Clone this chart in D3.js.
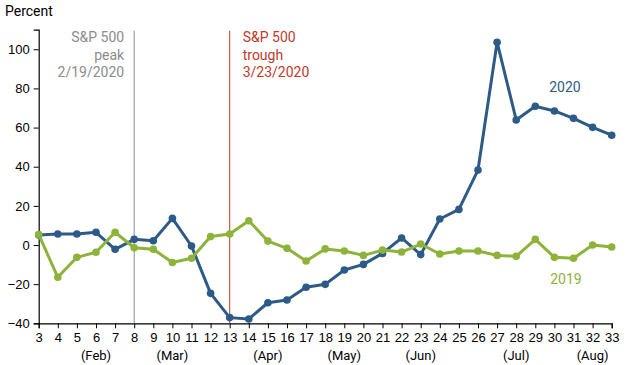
<!DOCTYPE html>
<html>
<head>
<meta charset="utf-8">
<script src="https://cdn.jsdelivr.net/npm/d3@7"></script>
<style>
  body { margin: 0; background: #fff; }
  svg { font-family: Roboto, "Noto Sans", sans-serif; }
  .axis text { font-size: 13px; fill: #000; }
</style>
</head>
<body>
<div id="chart"></div>
<script>
// 週番号 (x軸)
var weeks = d3.range(3, 34);

// 2020年の系列
var values2020 = [5.1, 5.6, 5.6, 6.5, -2.2, 2.9, 2.2, 13.6, -0.5, -24.7, -37.1,
  -37.8, -29.5, -28.1, -21.6, -20.1, -12.8, -9.9, -4.3, 3.6, -4.9, 13.3, 18.2,
  38.3, 103.6, 63.9, 70.9, 68.5, 64.7, 60.1, 56.1];

// 2019年の系列
var values2019 = [5.4, -16.5, -6.3, -3.7, 6.5, -1.4, -2.2, -8.9, -6.8, 4.3, 5.6,
  12.4, 2.0, -1.7, -8.2, -2.0, -3.1, -5.3, -2.6, -3.6, 0.5, -4.6, -3.1, -3.1,
  -5.3, -5.8, 2.9, -6.3, -6.8, 0.0, -1.0];

// y軸の目盛り
var yTicks = [-40, -20, 0, 20, 40, 60, 80, 100];

// 月ラベル（週番号の位置に置く）
var months = [
  { week: 6, label: '(Feb)' },
  { week: 10, label: '(Mar)' },
  { week: 15, label: '(Apr)' },
  { week: 19, label: '(May)' },
  { week: 23, label: '(Jun)' },
  { week: 28, label: '(Jul)' },
  { week: 32, label: '(Aug)' }
];

// 注記の縦線
var markers = [
  { week: 8, lines: ['S&P 500', 'peak', '2/19/2020'], color: '#8c8c8c', anchor: 'end' },
  { week: 13, lines: ['S&P 500', 'trough', '3/23/2020'], color: '#c0392b', anchor: 'start' }
];

var blue = '#2d5b87';
var green = '#8db33a';

var width = 625;
var height = 365;

var svg = d3.select('#chart').append('svg')
  .attr('width', width).attr('height', height);

var x = d3.scaleLinear().domain([3, 33]).range([38.7, 611.7]);
var y = d3.scaleLinear().domain([-40, 110]).range([323.3, 29.7]);

// y軸
var yAxis = svg.append('g')
  .attr('class', 'axis')
  .attr('transform', 'translate(' + x(3) + ',0)')
  .call(d3.axisLeft(y).tickValues(yTicks).tickSize(5).tickPadding(4));
yAxis.select('.domain').attr('stroke', '#000').attr('stroke-width', 1.2);
yAxis.selectAll('.tick line').attr('stroke', '#000');

// x軸
var xAxis = svg.append('g')
  .attr('class', 'axis')
  .attr('transform', 'translate(0,' + y(-40) + ')')
  .call(d3.axisBottom(x).tickValues(weeks).tickFormat(d3.format('d')).tickSize(5).tickPadding(4));
xAxis.select('.domain').attr('stroke', '#000').attr('stroke-width', 1.2);
xAxis.selectAll('.tick line').attr('stroke', '#000');

// 月ラベル
svg.selectAll('.month').data(months).enter()
  .append('text')
  .attr('class', 'month')
  .attr('x', function(d) { return x(d.week); })
  .attr('y', 360)
  .attr('text-anchor', 'middle')
  .style('font-size', '13px')
  .text(function(d) { return d.label; });

// Percent
svg.append('text')
  .attr('x', 5).attr('y', 16)
  .style('font-size', '14px')
  .text('Percent');

// 注記の縦線とテキスト
markers.forEach(function(m) {
  svg.append('line')
    .attr('x1', x(m.week)).attr('x2', x(m.week))
    .attr('y1', y(110) + 1).attr('y2', y(-40))
    .attr('stroke', m.color).attr('stroke-width', 1);
  var dx = m.anchor === 'end' ? -10 : 13;
  svg.selectAll(null).data(m.lines).enter()
    .append('text')
    .attr('x', x(m.week) + dx)
    .attr('y', function(d, i) { return 42 + i * 17.5; })
    .attr('text-anchor', m.anchor)
    .attr('fill', m.color)
    .style('font-size', '14px')
    .text(function(d) { return d; });
});

var line = d3.line()
  .x(function(d, i) { return x(weeks[i]); })
  .y(function(d) { return y(d); });

function drawSeries(values, color) {
  svg.append('path')
    .datum(values)
    .attr('d', line)
    .attr('fill', 'none')
    .attr('stroke', color)
    .attr('stroke-width', 3)
    .attr('stroke-linejoin', 'round');
  svg.append('g').selectAll('circle').data(values).enter()
    .append('circle')
    .attr('cx', function(d, i) { return x(weeks[i]); })
    .attr('cy', function(d) { return y(d); })
    .attr('r', 3.8)
    .attr('fill', color);
}

// 2019年を上に重ねる
drawSeries(values2020, blue);
drawSeries(values2019, green);

// 系列ラベル
svg.append('text')
  .attr('x', 565).attr('y', 92)
  .attr('text-anchor', 'middle')
  .attr('fill', blue)
  .style('font-size', '14px')
  .text('2020');

svg.append('text')
  .attr('x', 566).attr('y', 284)
  .attr('text-anchor', 'middle')
  .attr('fill', green)
  .style('font-size', '14px')
  .text('2019');
</script>
</body>
</html>
